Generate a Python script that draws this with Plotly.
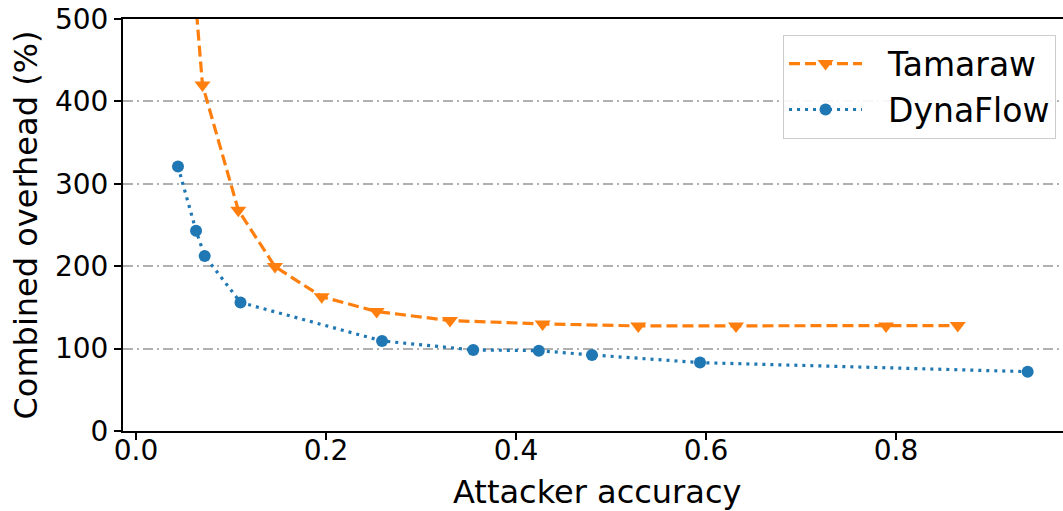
import plotly.graph_objects as go

tamaraw_x = [0.050, 0.070, 0.1077, 0.1463, 0.1955, 0.2533, 0.3305, 0.428, 0.5287, 0.6316, 0.7895, 0.865]
tamaraw_y = [700, 420, 268, 199.5, 163, 145, 134, 130, 127.5, 127.5, 127.5, 128]

dynaflow_x = [0.0442, 0.0632, 0.0723, 0.110, 0.259, 0.355, 0.424, 0.480, 0.5937, 0.9386]
dynaflow_y = [321, 243, 212.5, 156, 109.3, 98.4, 97.5, 92.3, 83, 72]

x_ticks = [0.0, 0.2, 0.4, 0.6, 0.8]
x_tick_labels = ["0.0", "0.2", "0.4", "0.6", "0.8"]
y_ticks = [0, 100, 200, 300, 400, 500]
y_tick_labels = ["0", "100", "200", "300", "400", "500"]

FONT = "DejaVu Sans"
PAD = "\u00a0\u00a0"

fig = go.Figure()
fig.add_trace(go.Scatter(
    x=tamaraw_x, y=tamaraw_y, name=PAD + "Tamaraw", mode="lines+markers",
    line=dict(color="#ff7f0e", width=3.2, dash="11px,5px"),
    marker=dict(symbol="triangle-down", size=14, color="#ff7f0e"),
))
fig.add_trace(go.Scatter(
    x=dynaflow_x, y=dynaflow_y, name=PAD + "DynaFlow", mode="lines+markers",
    line=dict(color="#1f77b4", width=3.2, dash="3px,5px"),
    marker=dict(symbol="circle", size=12, color="#1f77b4"),
))

fig.update_layout(
    width=1063, height=511,
    margin=dict(l=123, r=0, t=19, b=80),
    paper_bgcolor="white", plot_bgcolor="white",
    font=dict(family=FONT, color="black", size=28),
    showlegend=True,
    legend=dict(
        x=0.9926, y=0.962, xanchor="right", yanchor="top",
        bgcolor="rgba(255,255,255,0.9)", bordercolor="#cccccc", borderwidth=1,
        font=dict(family=FONT, size=33, color="black"),
        itemwidth=73,
    ),
    annotations=[dict(
        text="Attacker accuracy", xref="paper", yref="paper",
        x=0.5043, y=-0.1475, xanchor="center", yanchor="middle",
        showarrow=False, font=dict(family=FONT, size=32, color="black"),
    )],
)
fig.update_xaxes(
    range=[-0.01368, 0.9758],
    tickvals=x_ticks, ticktext=x_tick_labels,
    ticks="outside", ticklen=7, tickwidth=1.5, tickcolor="black",
    ticklabelstandoff=-14,
    showline=True, linecolor="black", linewidth=2, mirror=True,
    showgrid=False, zeroline=False, automargin=False,
    tickfont=dict(family=FONT, size=28, color="black"),
)
fig.update_yaxes(
    range=[0, 500],
    tickvals=y_ticks, ticktext=y_tick_labels,
    ticks="outside", ticklen=7, tickwidth=1.5, tickcolor="black",
    showline=True, linecolor="black", linewidth=2, mirror=False,
    showgrid=True, gridcolor="#b0b0b0", gridwidth=1.5, griddash="10px,4px,2px,4px",
    zeroline=False, automargin=False,
    tickfont=dict(family=FONT, size=28, color="black"),
    title=dict(text="Combined overhead (%)", font=dict(family=FONT, size=32, color="black"), standoff=8),
)

fig.write_html("out.html")
